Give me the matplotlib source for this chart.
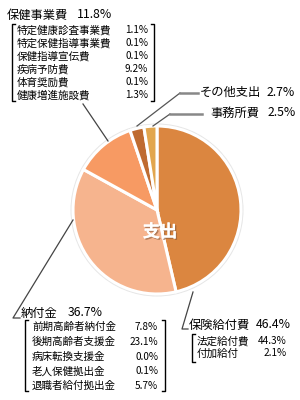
import matplotlib
matplotlib.use("Agg")
import matplotlib.pyplot as plt
import matplotlib.patheffects as pe
from matplotlib.patches import Circle

plt.rcParams['font.family'] = ['Noto Sans CJK JP', 'DejaVu Sans']

# ========================== DATA ==========================
categories = ["保険給付費", "納付金", "保健事業費", "その他支出", "事務所費"]
shares = [46.4, 36.7, 11.8, 2.7, 2.5]
colors = ["#DB8640", "#F6B48E", "#F79A63", "#BF6B30", "#E2A64E"]

hoken_items = ["特定健康診査事業費", "特定保健指導事業費", "保健指導宣伝費",
               "疾病予防費", "体育奨励費", "健康増進施設費"]
hoken_values = ["1.1%", "0.1%", "0.1%", "9.2%", "0.1%", "1.3%"]

noufu_items = ["前期高齢者納付金", "後期高齢者支援金", "病床転換支援金",
               "老人保健拠出金", "退職者給付拠出金"]
noufu_values = ["7.8%", "23.1%", "0.0%", "0.1%", "5.7%"]

kyufu_items = ["法定給付費", "付加給付"]
kyufu_values = ["44.3%", "2.1%"]

center_label = "支出"
# ==========================================================

fig = plt.figure(figsize=(3, 4), dpi=100)
ax = fig.add_axes([0, 0, 1, 1])

cx, cy, r = 157, 210, 84

# soft outer ring
ax.add_patch(Circle((cx, cy), r + 2.5, facecolor="#E6E6E6", edgecolor="none", zorder=0))

# y axis is inverted below, so start at -90 and go counterclockwise in data
ax.pie(shares, colors=colors, startangle=-90, counterclock=True,
       center=(cx, cy), radius=r,
       wedgeprops=dict(edgecolor="white", linewidth=2.2))

ax.set_xlim(0, 300)
ax.set_ylim(400, 0)
ax.set_aspect("equal")
ax.axis("off")

ax.text(cx + 3, cy + 22, center_label, color="white", fontsize=12.5, fontweight="bold",
        ha="center", va="center",
        path_effects=[pe.withSimplePatchShadow(offset=(1, -1), shadow_rgbFace="#8a5a3a", alpha=0.6),
                      pe.Normal()])


def bracket(x, top, bottom, side, tick=3):
    d = tick if side == "left" else -tick
    ax.plot([x + d, x, x, x + d], [top, top, bottom, bottom], color="black", lw=1)


def item_list(items, values, x_label, x_value, y0, step):
    for i, (name, val) in enumerate(zip(items, values)):
        y = y0 + i * step
        ax.text(x_label, y, name, fontsize=7.6, ha="left", va="center")
        ax.text(x_value, y, val, fontsize=7.2, ha="right", va="center")


title_fs = 8.8

# 保健事業費
ax.text(7, 15, categories[2], fontsize=title_fs, ha="left", va="center")
ax.text(77, 15, f"{shares[2]}%", fontsize=title_fs, ha="left", va="center")
bracket(12, 24, 101, "left")
bracket(154, 24, 101, "right")
item_list(hoken_items, hoken_values, 17, 148, 30, 13)
ax.plot([83, 108], [104, 141], color="#444444", lw=0.9)

# その他支出
ax.text(200, 92, categories[3], fontsize=title_fs, ha="left", va="center")
ax.text(267, 92, f"{shares[3]}%", fontsize=title_fs, ha="left", va="center")
ax.plot([137, 180], [126, 93], color="#555555", lw=0.9)
ax.plot([180, 198], [93, 93], color="#888888", lw=1.8)

# 事務所費
ax.text(210, 113, categories[4], fontsize=title_fs, ha="left", va="center")
ax.text(268, 113, f"{shares[4]}%", fontsize=title_fs, ha="left", va="center")
ax.plot([153, 170], [126, 114], color="#555555", lw=0.9)
ax.plot([170, 202], [114, 114], color="#888888", lw=1.8)

# 納付金
ax.text(21, 313, categories[1], fontsize=title_fs, ha="left", va="center")
ax.text(68, 313, f"{shares[1]}%", fontsize=title_fs, ha="left", va="center")
ax.plot([73, 13, 20], [220, 318, 318], color="#444444", lw=0.9)
bracket(25, 320, 391, "left")
bracket(165, 320, 391, "right")
item_list(noufu_items, noufu_values, 32, 158, 327, 14.8)

# 保険給付費
ax.text(189, 325, categories[0], fontsize=title_fs, ha="left", va="center")
ax.text(256, 325, f"{shares[0]}%", fontsize=title_fs, ha="left", va="center")
ax.plot([193, 182, 188], [292, 329, 329], color="#444444", lw=0.9)
bracket(192, 334, 362, "left")
item_list(kyufu_items, kyufu_values, 197, 287, 341, 12.5)

fig.savefig("out.png", dpi=100, facecolor="white")
